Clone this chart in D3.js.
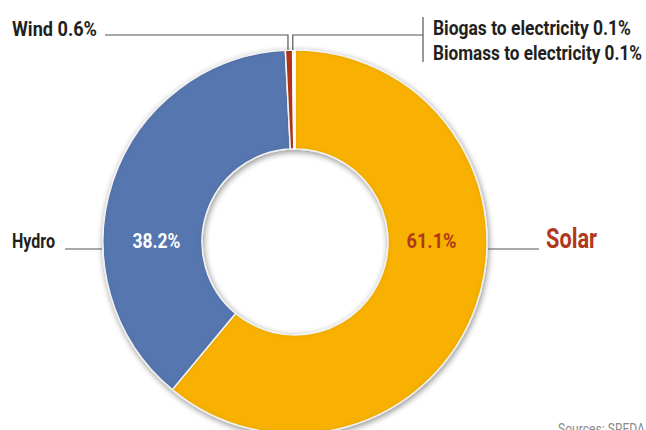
<!DOCTYPE html>
<html>
<head>
<meta charset="utf-8">
<script src="https://cdn.jsdelivr.net/npm/d3@7/dist/d3.min.js"></script>
<style>
  html, body { margin: 0; padding: 0; background: #fff; overflow: hidden; }
  svg { display: block; }
  text { font-family: Roboto, 'Noto Sans', sans-serif; }
</style>
</head>
<body>
<svg id="chart" width="646" height="430"></svg>
<script>
// Power generation mix by source (share of capacity, %)
const sources = ["Solar", "Hydro", "Wind", "Biogas to electricity", "Biomass to electricity"];
const shares  = [61.1, 38.2, 0.6, 0.1, 0.1];
const colors  = ["#f8b100", "#5676af", "#b0391c", "#f4f4f4", "#f4f4f4"];

const W = 646, H = 430;
const cx = 295, cy = 242, outerR = 192, innerR = 93;

const svg = d3.select("#chart");

// Filters: soft drop shadow under the ring, dark inner edge on each slice
const defs = svg.append("defs");
const drop = defs.append("filter").attr("id", "drop")
  .attr("x", "-20%").attr("y", "-20%").attr("width", "140%").attr("height", "140%");
drop.append("feGaussianBlur").attr("in", "SourceAlpha").attr("stdDeviation", 3).attr("result", "b");
drop.append("feOffset").attr("in", "b").attr("dx", 1).attr("dy", 2).attr("result", "o");
drop.append("feComponentTransfer").attr("in", "o").attr("result", "s")
  .append("feFuncA").attr("type", "linear").attr("slope", 0.45);
const dm = drop.append("feMerge");
dm.append("feMergeNode").attr("in", "s");
dm.append("feMergeNode").attr("in", "SourceGraphic");

const inner = defs.append("filter").attr("id", "inner");
inner.append("feComponentTransfer").attr("in", "SourceAlpha").attr("result", "inv")
  .append("feFuncA").attr("type", "table").attr("tableValues", "1 0");
inner.append("feGaussianBlur").attr("in", "inv").attr("stdDeviation", 2.5).attr("result", "blur");
inner.append("feFlood").attr("flood-color", "#000").attr("flood-opacity", 0.3).attr("result", "col");
inner.append("feComposite").attr("in", "col").attr("in2", "blur").attr("operator", "in").attr("result", "sh");
inner.append("feComposite").attr("in", "sh").attr("in2", "SourceAlpha").attr("operator", "in").attr("result", "insh");
const im = inner.append("feMerge");
im.append("feMergeNode").attr("in", "SourceGraphic");
im.append("feMergeNode").attr("in", "insh");

const data = sources.map((s, i) => ({ name: s, value: shares[i], color: colors[i] }));
const pie = d3.pie().sort(null).value(d => d.value);
const arcs = pie(data);
const arc = d3.arc().innerRadius(innerR).outerRadius(outerR);

const ring = svg.append("g")
  .attr("transform", `translate(${cx},${cy})`)
  .attr("filter", "url(#drop)");

ring.selectAll("path")
  .data(arcs)
  .join("path")
  .attr("d", arc)
  .attr("fill", d => d.data.color)
  .attr("stroke", "#fff")
  .attr("stroke-width", 1.5)
  .attr("filter", "url(#inner)");

// Point on the outer rim at a given angle
function rimX(a) { return cx + outerR * Math.sin(a); }
const midAngle = d => (d.startAngle + d.endAngle) / 2;

// Condensed-looking label: squeeze the glyphs into a fixed run width
function label(g, x, y, size, width, txt, opts = {}) {
  return g.append("text")
    .attr("x", x).attr("y", y)
    .attr("font-size", size)
    .attr("font-weight", opts.weight || "bold")
    .attr("fill", opts.fill || "#231f20")
    .attr("text-anchor", opts.anchor || "start")
    .attr("textLength", width)
    .attr("lengthAdjust", "spacingAndGlyphs")
    .text(txt);
}

const lineColor = "#555";
const lines = svg.append("g").attr("fill", "none").attr("stroke", lineColor).attr("stroke-width", 1.2);
const labels = svg.append("g");
const labelY = 35;

// Wind
const windArc = arcs[2];
const wx = rimX(midAngle(windArc)) - 1;
lines.append("path").attr("d", `M105,${labelY}H${wx}V${cy - outerR}`);
label(labels, 12, 36, 21, 85, `${sources[2]} ${shares[2]}%`);

// Biogas + biomass share one leader
const bioMid = (arcs[3].startAngle + arcs[4].endAngle) / 2;
const bx = rimX(bioMid) - 1;
const bracketX = 423;
lines.append("path").attr("d", `M${bx},${cy - outerR}V${labelY}H${bracketX}`);
lines.append("path").attr("d", `M${bracketX},17V62`);
label(labels, 433, 35, 21, 198, `${sources[3]} ${shares[3]}%`);
label(labels, 433, 60, 21, 209, `${sources[4]} ${shares[4]}%`);

// Hydro (left) and Solar (right) side labels
const sideY = cy + 7;
lines.append("path").attr("d", `M65,${sideY}H${cx - outerR - 1}`);
lines.append("path").attr("d", `M${cx + outerR + 1},${sideY}H539`);
label(labels, 12, cy + 6, 21, 43, sources[1]);
label(labels, 546, cy + 6, 27, 51, sources[0], { fill: "#b0391c" });

// Percentages inside the ring
const midR = (innerR + outerR) / 2;
label(labels, cx - midR + 4, cy + 6, 20, 48, `${shares[1]}%`, { anchor: "middle", fill: "#fff" });
label(labels, cx + midR - 6, cy + 6, 20, 50, `${shares[0]}%`, { anchor: "middle", fill: "#b0391c" });

// Source note
label(labels, 645, 434, 15, 87, "Sources: SREDA", { anchor: "end", weight: "normal", fill: "#8a8a8a" });
</script>
</body>
</html>
